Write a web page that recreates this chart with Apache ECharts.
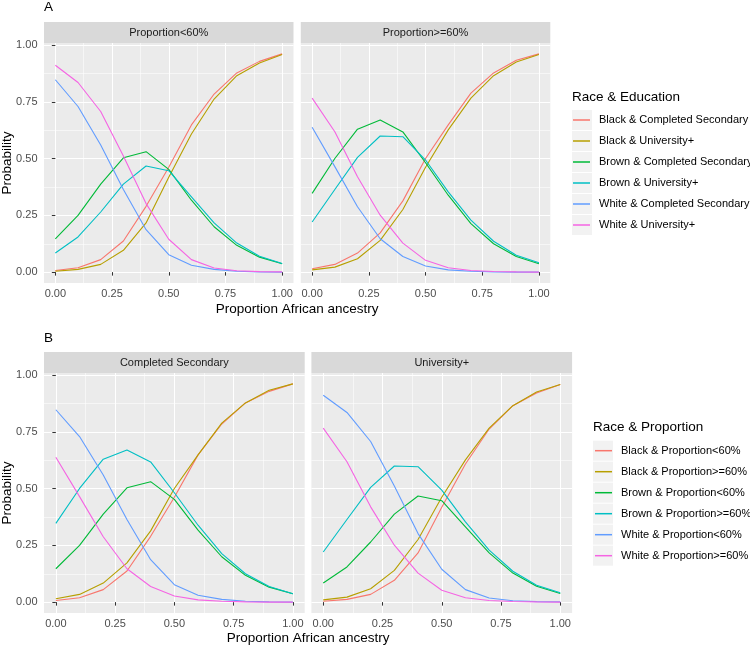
<!DOCTYPE html>
<html>
<head>
<meta charset="utf-8">
<script src="https://cdn.jsdelivr.net/npm/echarts@6/dist/echarts.min.js"></script>
<style>
html,body{margin:0;padding:0;background:#ffffff;}
#chart{width:750px;height:646px;}
</style>
</head>
<body>
<div id="chart"></div>
<script>
// ---------------- DATA ----------------
const xValues = [0, 0.1, 0.2, 0.3, 0.4, 0.5, 0.6, 0.7, 0.8, 0.9, 1.0];
const tickValues = [0, 0.25, 0.5, 0.75, 1.0];
const minorValues = [0.125, 0.375, 0.625, 0.875];

// Proportion<60%
const blackSecLow = [0.007, 0.019, 0.055, 0.137, 0.290, 0.462, 0.649, 0.785, 0.878, 0.929, 0.962];
const blackUniLow = [0.004, 0.012, 0.034, 0.096, 0.217, 0.418, 0.609, 0.763, 0.866, 0.922, 0.959];
const brownSecLow = [0.147, 0.250, 0.388, 0.504, 0.531, 0.453, 0.317, 0.200, 0.118, 0.066, 0.037];
const brownUniLow = [0.084, 0.155, 0.265, 0.388, 0.468, 0.447, 0.332, 0.217, 0.128, 0.070, 0.038];
const whiteSecLow = [0.848, 0.730, 0.560, 0.364, 0.187, 0.077, 0.030, 0.012, 0.004, 0.001, 0.000];
const whiteUniLow = [0.912, 0.836, 0.708, 0.512, 0.302, 0.145, 0.055, 0.018, 0.006, 0.002, 0.001];

// Proportion>=60%
const blackSecHigh = [0.015, 0.034, 0.084, 0.173, 0.314, 0.501, 0.649, 0.789, 0.878, 0.934, 0.962];
const blackUniHigh = [0.010, 0.022, 0.059, 0.140, 0.276, 0.462, 0.627, 0.767, 0.866, 0.926, 0.959];
const brownSecHigh = [0.347, 0.501, 0.630, 0.671, 0.618, 0.482, 0.339, 0.214, 0.125, 0.069, 0.037];
const brownUniHigh = [0.221, 0.364, 0.506, 0.600, 0.597, 0.494, 0.354, 0.229, 0.136, 0.074, 0.041];
const whiteSecHigh = [0.639, 0.465, 0.288, 0.147, 0.069, 0.027, 0.010, 0.004, 0.001, 0.000, 0.000];
const whiteUniHigh = [0.767, 0.619, 0.420, 0.251, 0.128, 0.052, 0.019, 0.007, 0.003, 0.001, 0.000];

const namesA = ['Black & Completed Secondary', 'Black & University+', 'Brown & Completed Secondary',
                'Brown & University+', 'White & Completed Secondary', 'White & University+'];
const namesB = ['Black & Proportion<60%', 'Black & Proportion>=60%', 'Brown & Proportion<60%',
                'Brown & Proportion>=60%', 'White & Proportion<60%', 'White & Proportion>=60%'];
const stripsA = ['Proportion<60%', 'Proportion>=60%'];
const stripsB = ['Completed Secondary', 'University+'];

// ---------------- STYLE / LAYOUT ----------------
const colors = ['#F8766D', '#B79F00', '#00BA38', '#00BFC4', '#619CFF', '#F564E3'];
const FONT = "'Liberation Sans', Arial, Helvetica, sans-serif";
const yMin = -0.048, yMax = 1.010;
const panels = [
  {left: 44,    top: 43,  width: 249.5, height: 240, yLabels: true},
  {left: 300.8, top: 43,  width: 249.5, height: 240, yLabels: false},
  {left: 44,    top: 373, width: 260.7, height: 240, yLabels: true},
  {left: 311.4, top: 373, width: 260.7, height: 240, yLabels: false}
];
const panelSeries = [
  [blackSecLow, blackUniLow, brownSecLow, brownUniLow, whiteSecLow, whiteUniLow],
  [blackSecHigh, blackUniHigh, brownSecHigh, brownUniHigh, whiteSecHigh, whiteUniHigh],
  [blackSecLow, blackSecHigh, brownSecLow, brownSecHigh, whiteSecLow, whiteSecHigh],
  [blackUniLow, blackUniHigh, brownUniLow, brownUniHigh, whiteUniLow, whiteUniHigh]
];
const panelNames = [namesA, namesA, namesB, namesB];
const stripTexts = [stripsA[0], stripsA[1], stripsB[0], stripsB[1]];

const grids = [], xAxes = [], yAxes = [], series = [], graphics = [];

panels.forEach((p, g) => {
  grids.push({left: p.left, top: p.top, width: p.width, height: p.height, show: true,
    backgroundColor: '#EBEBEB', borderWidth: 0, containLabel: false, outerBoundsMode: 'none'});
  // minor axes first (drawn underneath)
  [true, false].forEach(minor => {
    xAxes.push({
      type: 'value', gridIndex: g, min: -0.05, max: 1.05, position: minor ? 'top' : 'bottom',
      axisLine: {show: false},
      axisTick: {show: !minor, length: 3.5, lineStyle: {color: '#333333', width: 1},
                 customValues: minor ? minorValues : tickValues},
      axisLabel: {show: !minor, customValues: tickValues, formatter: v => v.toFixed(2), margin: 5,
                  color: '#4D4D4D', fontSize: 11, fontFamily: FONT},
      splitLine: {show: true, lineStyle: {color: '#FFFFFF', width: minor ? 0.55 : 1.1}},
      z: minor ? 0 : 1
    });
    const showY = !minor && p.yLabels;
    yAxes.push({
      type: 'value', gridIndex: g, min: yMin, max: yMax, position: minor ? 'right' : 'left',
      axisLine: {show: false},
      axisTick: {show: showY, length: 3.5, lineStyle: {color: '#333333', width: 1},
                 customValues: minor ? minorValues : tickValues},
      axisLabel: {show: showY, customValues: tickValues, formatter: v => v.toFixed(2), margin: 6.5,
                  color: '#4D4D4D', fontSize: 11, fontFamily: FONT},
      splitLine: {show: true, lineStyle: {color: '#FFFFFF', width: minor ? 0.55 : 1.1}},
      z: minor ? 0 : 1
    });
  });
  panelSeries[g].forEach((arr, k) => {
    series.push({
      type: 'line', name: panelNames[g][k],
      xAxisIndex: 2 * g + 1, yAxisIndex: 2 * g + 1,
      data: xValues.map((x, i) => [x, arr[i]]),
      symbol: 'none', showSymbol: false,
      lineStyle: {color: colors[k], width: 1.1},
      itemStyle: {color: colors[k]},
      emphasis: {disabled: true},
      z: 3, animation: false
    });
  });
  // strip
  graphics.push({type: 'rect', shape: {x: p.left, y: p.top - 21, width: p.width, height: 21},
    style: {fill: '#D9D9D9'}, silent: true});
  graphics.push({type: 'text', x: p.left + p.width / 2, y: p.top - 10.5,
    style: {text: stripTexts[g], fill: '#1A1A1A', font: '11px ' + FONT, textAlign: 'center', textVerticalAlign: 'middle'},
    silent: true});
});

// tags, axis titles
const texts = [
  {t: 'A', x: 44, y: 7, size: 13.5, align: 'left'},
  {t: 'B', x: 44, y: 338, size: 13.5, align: 'left'},
  {t: 'Proportion African ancestry', x: (44 + 550.3) / 2, y: 309, size: 13.5, align: 'center'},
  {t: 'Proportion African ancestry', x: (44 + 572.1) / 2, y: 638, size: 13.5, align: 'center'},
  {t: 'Race & Education', x: 572, y: 97, size: 13.5, align: 'left'},
  {t: 'Race & Proportion', x: 593, y: 427, size: 13.5, align: 'left'}
];
texts.forEach(o => graphics.push({type: 'text', x: o.x, y: o.y, silent: true,
  style: {text: o.t, fill: '#000000', font: o.size + 'px ' + FONT, textAlign: o.align, textVerticalAlign: 'middle'}}));
[163, 493].forEach(cy => graphics.push({type: 'text', x: 7, y: cy, rotation: Math.PI / 2, silent: true,
  style: {text: 'Probability', fill: '#000000', font: '13.5px ' + FONT, textAlign: 'center', textVerticalAlign: 'middle'}}));

// legend key backgrounds
const legA = {left: 573, top: 109.5, boxX: 572};
const legB = {left: 595, top: 440.2, boxX: 593};
[legA, legB].forEach(L => {
  for (let i = 0; i < 6; i++) {
    graphics.push({type: 'rect', silent: true, z: -1,
      shape: {x: L.boxX, y: L.top + i * 21 + 0.5, width: 20, height: 20}, style: {fill: '#F2F2F2'}});
  }
});

function legendOf(names, L) {
  return {data: names, orient: 'vertical', left: L.left, top: L.top, padding: 0, itemGap: 0,
    itemWidth: 17, itemHeight: 1.5, icon: 'rect', selectedMode: true,
    textStyle: {fontSize: 11, fontFamily: FONT, color: '#000000', lineHeight: 21, padding: [0, 0, 0, 4]}};
}

const chart = echarts.init(document.getElementById('chart'), null, {renderer: 'canvas'});
chart.setOption({
  animation: false,
  backgroundColor: '#FFFFFF',
  grid: grids, xAxis: xAxes, yAxis: yAxes, series: series,
  legend: [legendOf(namesA, legA), legendOf(namesB, legB)],
  graphic: {elements: graphics}
});
</script>
</body>
</html>
